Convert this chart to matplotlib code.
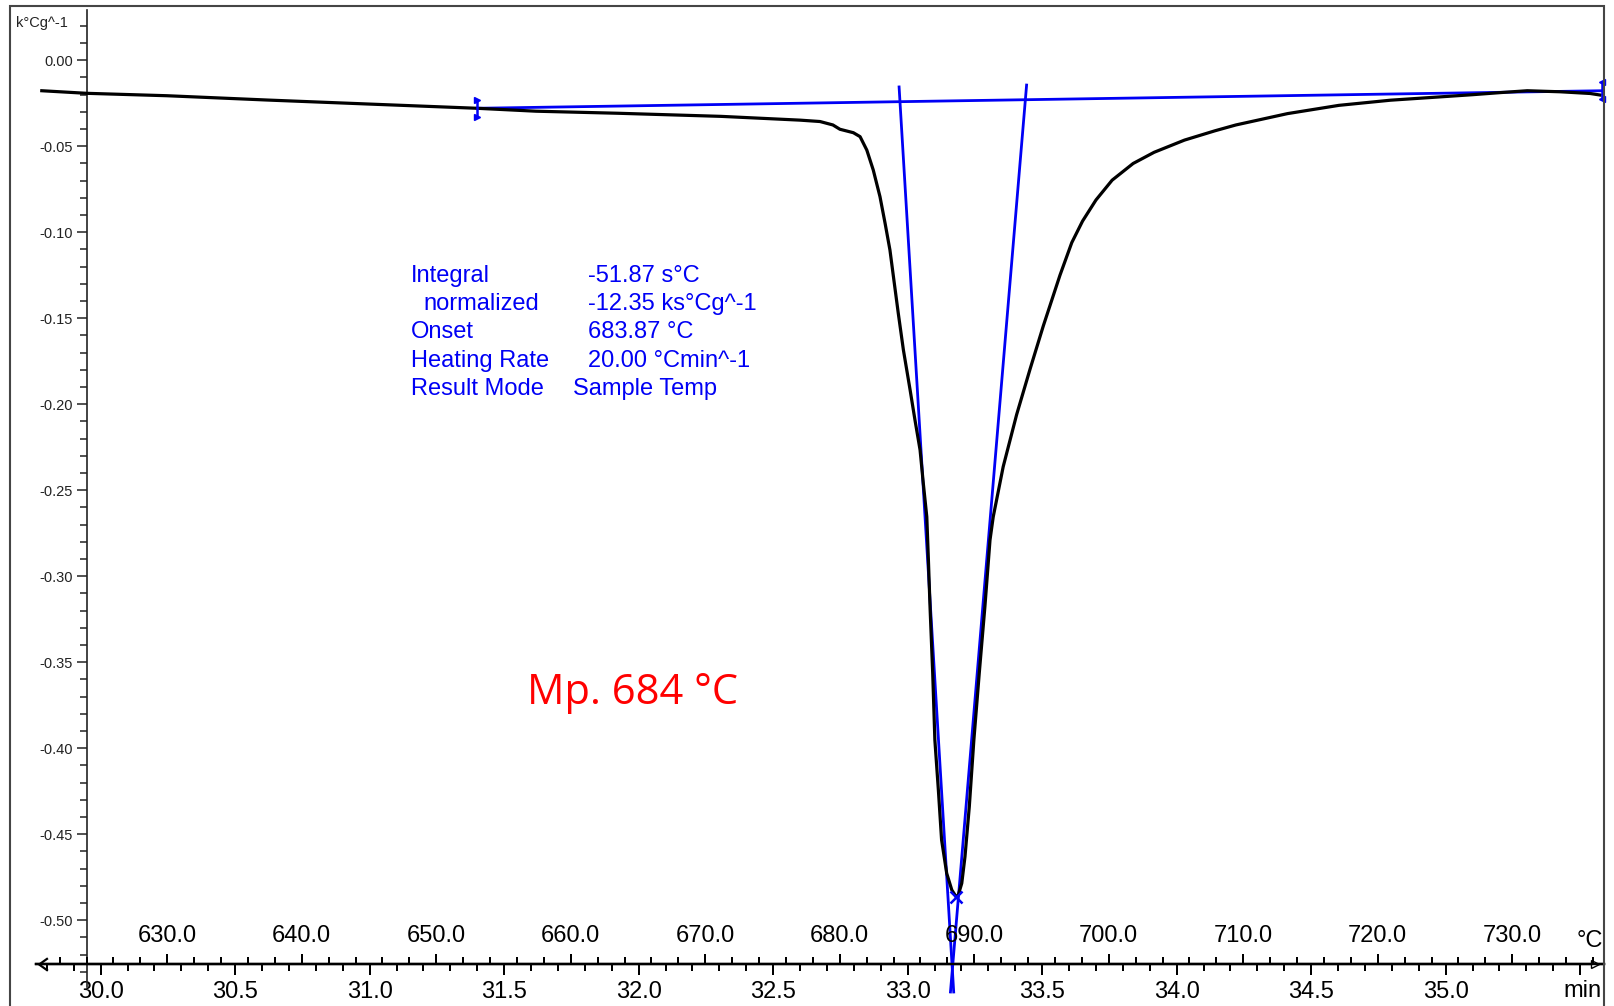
import matplotlib
matplotlib.use("Agg")
import matplotlib.pyplot as plt
import matplotlib.transforms as mtransforms
from matplotlib.ticker import FixedLocator, MultipleLocator, FixedFormatter, FuncFormatter
from matplotlib.patches import Rectangle
from matplotlib.path import Path

plt.rcParams['font.family'] = ['Liberation Sans', 'DejaVu Sans']

# ---------------- data ----------------
time_min = [29.781, 29.948, 30.246, 30.618, 30.990, 31.399, 31.618, 31.924, 32.306, 32.600,
            32.674, 32.722, 32.748, 32.798, 32.823, 32.848, 32.872, 32.897, 32.916, 32.934,
            32.947, 32.965, 32.984, 33.009, 33.027, 33.046, 33.058, 33.071, 33.077, 33.083,
            33.093, 33.101, 33.114, 33.126, 33.145, 33.164, 33.180, 33.188, 33.201, 33.213,
            33.229, 33.246, 33.266, 33.287, 33.306, 33.318, 33.355, 33.405, 33.455, 33.504,
            33.566, 33.610, 33.650, 33.700, 33.760, 33.838, 33.916, 34.029, 34.142, 34.220,
            34.412, 34.603, 34.795, 34.986, 35.100, 35.202, 35.303, 35.425, 35.537, 35.574]
signal = [-0.0177, -0.0192, -0.0206, -0.0231, -0.0254, -0.0279, -0.0296, -0.0308, -0.0326, -0.0348,
          -0.0356, -0.0376, -0.0401, -0.0421, -0.0444, -0.0522, -0.0638, -0.0793, -0.0948, -0.1103,
          -0.1258, -0.1471, -0.1684, -0.1917, -0.2091, -0.2266, -0.2459, -0.2654, -0.2905, -0.3177,
          -0.3564, -0.3952, -0.4242, -0.4533, -0.4727, -0.4824, -0.4863, -0.4853, -0.4785, -0.4630,
          -0.4340, -0.3952, -0.3564, -0.3177, -0.2789, -0.2654, -0.2363, -0.2060, -0.1795, -0.1545,
          -0.1250, -0.1060, -0.0935, -0.0812, -0.0697, -0.0600, -0.0535, -0.0464, -0.0410, -0.0376,
          -0.0310, -0.0262, -0.0232, -0.0212, -0.0200, -0.0188, -0.0177, -0.0183, -0.0193, -0.0202]

baseline_time = [31.399, 35.580]
baseline_signal = [-0.0279, -0.0177]
onset_tangent_time = [32.968, 33.171]
onset_tangent_signal = [-0.0155, -0.5417]
endset_tangent_time = [33.442, 33.159]
endset_tangent_signal = [-0.0144, -0.5417]
peak_time = [33.180]
peak_signal = [-0.4863]

y_major_ticks = [0.00, -0.05, -0.10, -0.15, -0.20, -0.25, -0.30, -0.35, -0.40, -0.45, -0.50]
time_major_ticks = [30.0, 30.5, 31.0, 31.5, 32.0, 32.5, 33.0, 33.5, 34.0, 34.5, 35.0, 35.5]
time_tick_labels = ['30.0', '30.5', '31.0', '31.5', '32.0', '32.5', '33.0', '33.5',
                    '34.0', '34.5', '35.0', '']
temp_major_ticks = [630, 640, 650, 660, 670, 680, 690, 700, 710, 720, 730]
temp_tick_labels = ['630.0', '640.0', '650.0', '660.0', '670.0', '680.0', '690.0',
                    '700.0', '710.0', '720.0', '730.0']

result_names = ["Integral", "normalized", "Onset", "Heating Rate", "Result Mode"]
result_values = ["-51.87 s°C", "-12.35 ks°Cg^-1", "683.87 °C", "20.00 °Cmin^-1", "Sample Temp"]
annotation_text = "Mp. 684 °C"
y_unit = "k°Cg^-1"
temp_unit = "°C"
time_unit = "min"

HEATING_RATE = 20.0          # °C / min
T_REF, TIME_REF = 630.0, 30.2476

# ---------------- layout / style ----------------
W, H = 1614, 1006
BLUE = '#0000F5'
X_LIM = (29.7595, 35.5885)
Y_LIM = (-0.5388, 0.02924)
Y_AXIS_AT = 29.948
X_AXIS_AT = -0.5254
BRACKET_HALF = 0.005


def fx(px):
    return px / W


def fy(py):
    return 1 - py / H


def temp_of(t):
    return T_REF + HEATING_RATE * (t - TIME_REF)


fig = plt.figure(figsize=(W / 100, H / 100), dpi=100)
fig.patch.set_facecolor('white')

ax = fig.add_axes([fx(36), fy(987), fx(1604) - fx(36), fy(10) - fy(987)])
ax.set_xlim(*X_LIM)
ax.set_ylim(*Y_LIM)
ax.patch.set_visible(False)

for s in ['top', 'right']:
    ax.spines[s].set_visible(False)
ax.spines['left'].set_position(('data', Y_AXIS_AT))
ax.spines['left'].set_linewidth(1.2)
ax.spines['left'].set_color('#222222')
ax.spines['bottom'].set_position(('data', X_AXIS_AT))
ax.spines['bottom'].set_linewidth(1.7)

# y axis
ax.yaxis.set_major_locator(FixedLocator(y_major_ticks))
ax.yaxis.set_minor_locator(MultipleLocator(0.01))
ax.yaxis.set_major_formatter(FuncFormatter(lambda v, p: f"{v:.2f}"))
ax.tick_params(axis='y', which='major', direction='out', length=7.2, width=1.1,
               labelsize=10.5, pad=2.9, color='#222222', labelcolor='#222222')
ax.tick_params(axis='y', which='minor', direction='out', length=4.8, width=1.1, color='#222222')

# time axis (bottom)
ax.xaxis.set_major_locator(FixedLocator(time_major_ticks))
ax.xaxis.set_major_formatter(FixedFormatter(time_tick_labels))
ax.xaxis.set_minor_locator(MultipleLocator(0.1))
ax.tick_params(axis='x', which='major', direction='out', length=7.7, width=1.44,
               labelsize=17, pad=4.5)
ax.tick_params(axis='x', which='minor', direction='out', length=5.0, width=1.44)

# temperature axis (above the same line)
ax2 = ax.twiny()
ax2.set_xlim(temp_of(X_LIM[0]), temp_of(X_LIM[1]))
for s in ['left', 'right', 'bottom']:
    ax2.spines[s].set_visible(False)
ax2.spines['top'].set_position(('data', X_AXIS_AT))
ax2.spines['top'].set_linewidth(1.7)
ax2.xaxis.set_major_locator(FixedLocator(temp_major_ticks))
ax2.xaxis.set_major_formatter(FixedFormatter(temp_tick_labels))
ax2.xaxis.set_minor_locator(MultipleLocator(2))
ax2.tick_params(axis='x', which='major', direction='out', length=7.2, width=1.44,
                labelsize=17, pad=5.0)
ax2.tick_params(axis='x', which='minor', direction='out', length=5.0, width=1.44)

# ---------------- marks ----------------
ax.plot(baseline_time, baseline_signal, color=BLUE, lw=2.0, zorder=3, clip_on=False)
ax.plot(onset_tangent_time, onset_tangent_signal, color=BLUE, lw=2.0, zorder=3, clip_on=False)
ax.plot(endset_tangent_time, endset_tangent_signal, color=BLUE, lw=2.0, zorder=3, clip_on=False)
ax.plot(time_min, signal, color='black', lw=2.3, zorder=4, solid_joinstyle='round')
ax.plot(peak_time, peak_signal, ls='none', marker='x', ms=8, mew=1.8, color=BLUE, zorder=5)

# baseline limit brackets
for (bt, bv, mk) in [(baseline_time[0], baseline_signal[0], '>'),
                     (baseline_time[1], baseline_signal[1], '<')]:
    ax.plot([bt, bt], [bv - BRACKET_HALF, bv + BRACKET_HALF], color=BLUE, lw=1.8,
            zorder=5, clip_on=False)
    ax.plot([bt, bt], [bv - BRACKET_HALF, bv + BRACKET_HALF], ls='none', marker=mk,
            ms=5, color=BLUE, zorder=5, clip_on=False)

# axis end arrows
blend = mtransforms.blended_transform_factory(ax.transAxes, ax.transData)
chevron = Path([(0.7, 1.0), (-0.7, 0.0), (0.7, -1.0)], [Path.MOVETO, Path.LINETO, Path.LINETO])
ax.plot([0.0045], [X_AXIS_AT], transform=blend, marker=chevron, ms=9, mew=1.6,
        mfc='none', mec='black', clip_on=False, zorder=6)
ax.plot([0.994], [X_AXIS_AT], transform=blend, marker='>', ms=6, mew=1.0,
        mfc='white', mec='black', clip_on=False, zorder=6)

# ---------------- texts ----------------
fig.text(fx(16), fy(27.5), y_unit, fontsize=10.5, color='#222222', ha='left', va='baseline')
fig.text(fx(1603), fy(946.7), temp_unit, fontsize=17, ha='right', va='baseline')
fig.text(fx(1602), fy(980), time_unit, fontsize=17, ha='right', va='top')

name_x = [411, 423.3, 411, 411, 411]
value_x = [588.3, 588.3, 588.3, 588.3, 572.7]
for i, (nm, val) in enumerate(zip(result_names, result_values)):
    base = 281.6 + 28.35 * i
    fig.text(fx(name_x[i]), fy(base), nm, fontsize=17, color=BLUE, ha='left', va='baseline')
    fig.text(fx(value_x[i]), fy(base), val, fontsize=17, color=BLUE, ha='left', va='baseline')

fig.text(fx(527), fy(693), annotation_text, fontsize=30, color='#FF0000',
         family=['Open Sans', 'DejaVu Sans'], ha='left', va='center')

# outer frame
fig.add_artist(Rectangle((fx(10), fy(1030)), fx(1604) - fx(10), fy(6) - fy(1030),
                         transform=fig.transFigure, fill=False, ec='#454545', lw=1.5))

fig.savefig('out.png', dpi=100)
